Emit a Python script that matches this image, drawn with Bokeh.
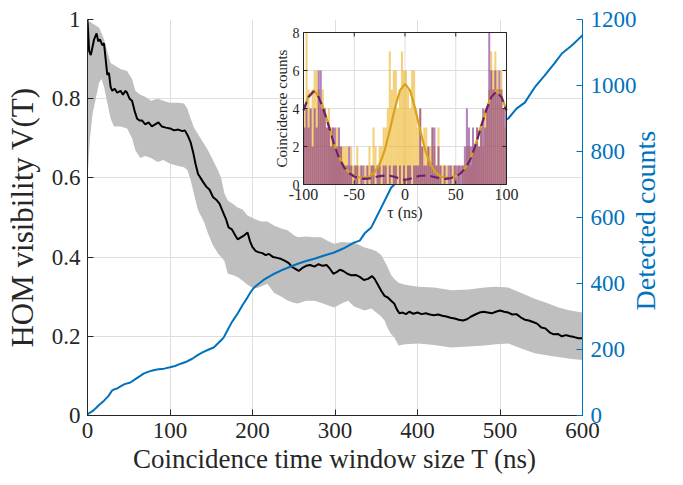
from math import pi
from bokeh.plotting import figure
from bokeh.models import Range1d, LinearAxis, FixedTicker, Label
from bokeh.core.properties import value
from bokeh.embed import file_html
from bokeh.resources import INLINE

# ---------------- data ----------------
# HOM visibility V(T) vs coincidence window T (ns)
vis_T = [0, 2, 4, 6, 8, 11, 13, 15, 18, 20, 22, 24, 26, 28, 30, 33, 36, 40, 43, 46, 48, 51, 54, 57, 60,
         63, 66, 70, 74, 78, 82, 86, 90, 95, 100, 105, 110, 115, 118, 122, 125, 128, 131, 134, 137, 140,
         144, 148, 152, 156, 160, 163, 165, 168, 171, 175, 179, 182, 186, 190, 194, 197, 200, 204, 208,
         212, 216, 220, 225, 230, 235, 240, 244, 248, 252, 256, 260, 265, 270, 275, 280, 285, 290, 294,
         298, 302, 306, 310, 315, 320, 325, 330, 335, 340, 345, 348, 352, 356, 360, 364, 368, 372, 375,
         378, 382, 386, 390, 395, 400, 405, 410, 415, 420, 425, 430, 435, 440, 445, 450, 455, 460, 465,
         470, 475, 480, 485, 490, 495, 500, 505, 510, 515, 520, 525, 530, 535, 540, 545, 550, 555, 560,
         565, 570, 575, 580, 585, 590, 595, 600]
vis_V = [1.00, 0.92, 0.91, 0.93, 0.95, 0.965, 0.945, 0.95, 0.935, 0.94, 0.90, 0.86, 0.865, 0.83, 0.82,
         0.825, 0.815, 0.82, 0.81, 0.82, 0.815, 0.80, 0.795, 0.77, 0.75, 0.745, 0.745, 0.735, 0.74, 0.73,
         0.735, 0.74, 0.73, 0.727, 0.725, 0.72, 0.722, 0.718, 0.72, 0.705, 0.69, 0.665, 0.635, 0.61, 0.60,
         0.59, 0.578, 0.57, 0.552, 0.545, 0.535, 0.52, 0.51, 0.495, 0.475, 0.47, 0.455, 0.445, 0.45,
         0.455, 0.462, 0.44, 0.425, 0.415, 0.412, 0.41, 0.405, 0.408, 0.40, 0.398, 0.395, 0.39, 0.385,
         0.375, 0.37, 0.365, 0.372, 0.378, 0.38, 0.376, 0.382, 0.378, 0.38, 0.37, 0.358, 0.362, 0.368,
         0.365, 0.358, 0.354, 0.355, 0.35, 0.342, 0.345, 0.352, 0.345, 0.33, 0.315, 0.302, 0.298, 0.29,
         0.282, 0.268, 0.258, 0.26, 0.256, 0.262, 0.257, 0.26, 0.256, 0.258, 0.255, 0.253, 0.255, 0.252,
         0.25, 0.247, 0.245, 0.242, 0.24, 0.243, 0.25, 0.255, 0.26, 0.262, 0.26, 0.258, 0.262, 0.265,
         0.262, 0.26, 0.255, 0.256, 0.248, 0.242, 0.24, 0.236, 0.232, 0.222, 0.22, 0.21, 0.205, 0.206,
         0.20, 0.203, 0.20, 0.198, 0.195, 0.195]

# uncertainty band of V(T)
band_T = [0, 3, 6, 10, 14, 17, 20, 24, 28, 32, 40, 48, 54, 58, 64, 70, 77, 85, 92, 100, 110, 117, 121,
          125, 129, 134, 141, 146, 152, 158, 162, 166, 170, 176, 182, 188, 194, 202, 210, 218, 226, 235,
          243, 250, 255, 265, 275, 283, 292, 299, 308, 316, 323, 336, 344, 350, 356, 360, 364, 368, 372,
          377, 385, 401, 420, 441, 462, 481, 495, 510, 525, 542, 556, 571, 585, 600]
band_lo = [0.60, 0.70, 0.76, 0.80, 0.84, 0.85, 0.83, 0.79, 0.75, 0.73, 0.73, 0.725, 0.70, 0.67, 0.65,
           0.655, 0.65, 0.64, 0.645, 0.636, 0.63, 0.627, 0.62, 0.595, 0.56, 0.518, 0.49, 0.46, 0.43, 0.41,
           0.40, 0.39, 0.358, 0.355, 0.35, 0.34, 0.33, 0.32, 0.325, 0.333, 0.31, 0.30, 0.29, 0.285, 0.283,
           0.29, 0.29, 0.285, 0.278, 0.273, 0.283, 0.29, 0.275, 0.265, 0.27, 0.26, 0.25, 0.24, 0.22, 0.205,
           0.197, 0.177, 0.18, 0.182, 0.178, 0.172, 0.174, 0.177, 0.18, 0.182, 0.17, 0.157, 0.152, 0.148,
           0.143, 0.14]
band_hi = [0.99, 0.995, 0.99, 0.985, 0.98, 0.965, 0.95, 0.92, 0.89, 0.885, 0.875, 0.87, 0.85, 0.82, 0.81,
           0.805, 0.795, 0.80, 0.795, 0.79, 0.79, 0.788, 0.775, 0.75, 0.727, 0.71, 0.687, 0.67, 0.645, 0.62,
           0.60, 0.56, 0.543, 0.535, 0.525, 0.52, 0.505, 0.497, 0.49, 0.49, 0.48, 0.472, 0.467, 0.455, 0.45,
           0.452, 0.45, 0.45, 0.44, 0.434, 0.438, 0.437, 0.437, 0.424, 0.42, 0.415, 0.405, 0.39, 0.374,
           0.355, 0.345, 0.335, 0.33, 0.325, 0.323, 0.316, 0.318, 0.323, 0.325, 0.323, 0.31, 0.295, 0.285,
           0.273, 0.265, 0.26]

# detected counts vs T (right axis)
cnt_T = [0, 1, 4, 7, 10, 14, 20, 25, 30, 33, 36, 40, 45, 52, 58, 64, 68, 74, 80, 86, 93, 100, 106, 113,
         120, 127, 133, 140, 147, 153, 158, 162, 165, 170, 175, 182, 188, 194, 198, 202, 208, 213, 218,
         225, 235, 245, 255, 265, 275, 287, 299, 310, 323, 330, 336, 344, 350, 356, 362, 368, 380, 400,
         420, 440, 460, 480, 500, 510, 520, 530, 542, 554, 566, 575, 587, 597, 600]
cnt_C = [2, 6, 10, 15, 22, 32, 45, 58, 76, 80, 82, 88, 95, 100, 110, 120, 127, 133, 137, 140, 142, 146,
         150, 157, 163, 172, 182, 192, 200, 206, 218, 228, 236, 260, 283, 309, 335, 358, 375, 388, 400,
         410, 418, 428, 440, 450, 460, 468, 475, 485, 494, 506, 524, 530, 552, 570, 600, 630, 660, 690,
         720, 752, 780, 806, 834, 860, 885, 900, 930, 948, 994, 1030, 1067, 1097, 1121, 1145, 1152]

# inset: coincidence histograms, 2 ns bins from -100 to 100 ns
tau_bins = [-99 + 2 * i for i in range(100)]
yellow_counts = [4, 8, 5, 4, 5, 6, 6, 5, 4, 5,
                 4, 3, 4, 3, 3, 2, 3, 2, 2, 2,
                 2, 2, 1, 2, 1, 1, 2, 1, 1, 0,
                 1, 1, 2, 1, 3, 2, 1, 2, 2, 3,
                 3, 4, 7, 5, 6, 6, 4, 5, 7, 6,
                 6, 5, 4, 6, 6, 4, 3, 4, 2, 3,
                 3, 2, 2, 3, 2, 1, 3, 1, 1, 1,
                 1, 0, 1, 1, 1, 0, 1, 0, 1, 1,
                 2, 2, 1, 2, 2, 3, 2, 3, 2, 4,
                 4, 5, 7, 6, 7, 6, 5, 6, 4, 3]
purple_counts = [3, 4, 3, 4, 2, 4, 3, 6, 6, 4,
                 4, 3, 3, 2, 3, 3, 2, 3, 2, 1,
                 1, 1, 2, 1, 0, 1, 1, 0, 1, 1,
                 0, 1, 0, 1, 1, 0, 1, 1, 0, 1,
                 1, 0, 1, 0, 1, 1, 0, 1, 0, 1,
                 0, 1, 1, 0, 1, 1, 1, 4, 2, 1,
                 1, 2, 1, 3, 3, 1, 2, 1, 0, 1,
                 0, 1, 1, 0, 1, 1, 1, 1, 1, 2,
                 4, 3, 2, 3, 2, 3, 2, 3, 4, 3,
                 4, 8, 6, 5, 6, 5, 6, 5, 4, 4]
# inset fit curves (sampled every 5 ns)
tau_fit = [-100, -95, -90, -85, -80, -75, -70, -65, -60, -55, -50, -45, -40, -35, -30, -25, -20, -15,
           -10, -5, 0, 5, 10, 15, 20, 25, 30, 35, 40, 45, 50, 55, 60, 65, 70, 75, 80, 85, 90, 95, 100]
yellow_fit = [3.9, 4.65, 4.95, 4.65, 3.95, 3.1, 2.2, 1.45, 0.95, 0.62, 0.45, 0.38, 0.36, 0.42, 0.64,
              1.07, 1.8, 2.85, 4.0, 4.95, 5.3, 4.95, 4.0, 2.85, 1.8, 1.07, 0.64, 0.42, 0.36, 0.38, 0.45,
              0.62, 0.95, 1.45, 2.2, 3.1, 3.95, 4.65, 4.95, 4.65, 3.9]
purple_fit = [3.9, 4.6, 4.9, 4.6, 3.9, 3.05, 2.15, 1.4, 0.9, 0.6, 0.42, 0.34, 0.3, 0.32, 0.38, 0.44,
              0.47, 0.46, 0.4, 0.3, 0.25, 0.3, 0.4, 0.46, 0.47, 0.44, 0.38, 0.32, 0.3, 0.34, 0.42, 0.6,
              0.9, 1.4, 2.15, 3.05, 3.9, 4.6, 4.9, 4.6, 3.9]

x_ticks = [0, 100, 200, 300, 400, 500, 600]
y_ticks = [0, 0.2, 0.4, 0.6, 0.8, 1]
y_tick_labels = ["0", "0.2", "0.4", "0.6", "0.8", "1"]
r_ticks = [0, 200, 400, 600, 800, 1000, 1200]
inset_x_ticks = [-100, -50, 0, 50, 100]
inset_x_labels = ["-100", "-50", "0", "50", "100"]
inset_y_ticks = [0, 2, 4, 6, 8]
inset_y_labels = ["0", "2", "4", "6", "8"]

# ---------------- layout / style ----------------
FONT = "Liberation Serif"
AX = "#262626"
BLUE = "#0072BD"
W, H = 683, 485
FL, FR, FT, FB = 87, 582, 19, 415          # frame edges in pixels
IL, IR, IT, IB = 303, 506, 32, 184         # inset box edges in pixels
ixmin, ixmax = inset_x_ticks[0], inset_x_ticks[-1]
iymin, iymax = inset_y_ticks[0], inset_y_ticks[-1]
sx = (ixmax - ixmin) / (IR - IL)
sy = (iymax - iymin) / (IB - IT)

p = figure(width=W, height=H, output_backend="svg", toolbar_location=None,
           x_range=Range1d(x_ticks[0], x_ticks[-1]), y_range=Range1d(y_ticks[0], y_ticks[-1]),
           min_border_left=FL, min_border_right=W - FR, min_border_top=FT, min_border_bottom=H - FB)
p.outline_line_color = None
p.background_fill_color = "white"
p.border_fill_color = "white"
p.extra_y_ranges = {
    "counts": Range1d(r_ticks[0], r_ticks[-1]),
    "iy": Range1d(iymin - (FB - IB) * sy, iymax + (IT - FT) * sy),
}
p.extra_x_ranges = {"ix": Range1d(ixmin - (IL - FL) * sx, ixmax + (FR - IR) * sx)}

# axes
p.xaxis.ticker = FixedTicker(ticks=x_ticks)
p.yaxis.ticker = FixedTicker(ticks=y_ticks)
p.yaxis.major_label_overrides = dict(zip(y_ticks, y_tick_labels))
for ax in (p.xaxis[0], p.yaxis[0]):
    ax.major_tick_in = 6
    ax.major_tick_out = 0
    ax.minor_tick_line_color = None
    ax.axis_line_color = AX
    ax.major_tick_line_color = AX
    ax.major_label_text_font = FONT
    ax.major_label_text_font_size = "23px"
    ax.major_label_text_color = AX
    ax.axis_label_text_font = FONT
    ax.axis_label_text_font_style = "normal"
    ax.axis_label_text_color = AX
p.xaxis.axis_label = "Coincidence time window size T (ns)"
p.yaxis.axis_label = "HOM visibility V(T)"
p.xaxis.axis_label_text_font_size = "27px"
p.yaxis.axis_label_text_font_size = "31px"
p.xaxis.major_label_standoff = 7
p.xaxis.axis_label_standoff = 3
p.yaxis.major_label_standoff = 7
p.yaxis.axis_label_standoff = 9

rax = LinearAxis(y_range_name="counts", ticker=FixedTicker(ticks=r_ticks))
rax.major_tick_in = 6
rax.major_tick_out = 0
rax.minor_tick_line_color = None
rax.axis_line_color = BLUE
rax.major_tick_line_color = BLUE
rax.major_label_text_color = BLUE
rax.major_label_text_font = FONT
rax.major_label_text_font_size = "23px"
rax.major_label_standoff = 8
rax.axis_label_text_font = FONT
rax.axis_label_text_font_style = "normal"
rax.axis_label_text_font_size = "28px"
rax.axis_label_text_color = BLUE
rax.axis_label_standoff = 6
props = rax.properties()
if "axis_label_orientation" in props:
    if "axis_label_align" in props:
        # label starts at the bottom of the axis; leading no-break spaces lift it to the middle
        rax.axis_label_align = "start"
        rax.axis_label = "\u00a0" * 15 + "Detected counts"
    else:
        rax.axis_label = "Detected counts"
    rax.axis_label_orientation = pi / 2
else:
    p.add_layout(Label(x=FR - FL + 74, y=(FB - FT) / 2, x_units="screen", y_units="screen",
                       text="Detected counts", angle=pi / 2, text_align="center",
                       text_baseline="middle", text_font=FONT, text_font_size="28px",
                       text_color=BLUE))
p.add_layout(rax, "right")

p.xgrid.ticker = FixedTicker(ticks=x_ticks)
p.ygrid.ticker = FixedTicker(ticks=y_ticks)
p.grid.grid_line_color = "#DEDEDE"
p.grid.grid_line_width = 1

# main data
p.varea(x=band_T, y1=band_lo, y2=band_hi, fill_color="#BFBFBF")
p.line(vis_T, vis_V, line_color="black", line_width=2)
p.line(cnt_T, cnt_C, line_color=BLUE, line_width=2, y_range_name="counts")

# ---------------- inset ----------------
kw = dict(x_range_name="ix", y_range_name="iy")
p.quad(left=[ixmin], right=[ixmax], bottom=[iymin], top=[iymax], fill_color="white",
       line_color=None, **kw)
gx = inset_x_ticks[1:-1]
gy = inset_y_ticks[1:-1]
p.segment(x0=gx, y0=[iymin] * len(gx), x1=gx, y1=[iymax] * len(gx), line_color="#DEDEDE", **kw)
p.segment(x0=[ixmin] * len(gy), y0=gy, x1=[ixmax] * len(gy), y1=gy, line_color="#DEDEDE", **kw)
p.vbar(x=tau_bins, width=2, top=yellow_counts, bottom=0, fill_color="#EDB120", fill_alpha=0.6,
       line_color=None, **kw)
p.vbar(x=tau_bins, width=2, top=purple_counts, bottom=0, fill_color="#7E2F8E", fill_alpha=0.6,
       line_color=None, **kw)
p.line(tau_fit, yellow_fit, line_color="#D9A21B", line_width=2.2, **kw)
p.line(tau_fit, purple_fit, line_color="#6A2079", line_width=2.2, line_dash="9 5", **kw)
p.quad(left=[ixmin], right=[ixmax], bottom=[iymin], top=[iymax], fill_color=None,
       line_color=AX, line_width=1, **kw)
# inset ticks (inward)
n = len(inset_x_ticks)
m = len(inset_y_ticks)
p.ray(x=inset_x_ticks, y=[iymin] * n, length=4, length_units="screen", angle=pi / 2, line_color=AX, **kw)
p.ray(x=inset_x_ticks, y=[iymax] * n, length=4, length_units="screen", angle=-pi / 2, line_color=AX, **kw)
p.ray(x=[ixmin] * m, y=inset_y_ticks, length=4, length_units="screen", angle=0, line_color=AX, **kw)
p.ray(x=[ixmax] * m, y=inset_y_ticks, length=4, length_units="screen", angle=pi, line_color=AX, **kw)
p.text(x=inset_x_ticks, y=[iymin] * n, text=inset_x_labels, text_align="center", text_baseline="top",
       y_offset=4, text_font=value(FONT), text_font_size="16px", text_color=AX, **kw)
p.text(x=[ixmin] * m, y=inset_y_ticks, text=inset_y_labels, text_align="right", text_baseline="middle",
       x_offset=-4, text_font=value(FONT), text_font_size="14px", text_color=AX, **kw)
p.text(x=[(ixmin + ixmax) / 2], y=[iymin], text=["τ (ns)"], text_align="center", text_baseline="top",
       y_offset=19, text_font=value(FONT), text_font_size="16px", text_color=AX, **kw)
p.text(x=[ixmin], y=[(iymin + iymax) / 2], text=["Coincidence counts"], angle=pi / 2,
       text_align="center", text_baseline="bottom", x_offset=-14, text_font=value(FONT),
       text_font_size="15px", text_color=AX, **kw)

open("out.html", "w").write(file_html(p, INLINE))
